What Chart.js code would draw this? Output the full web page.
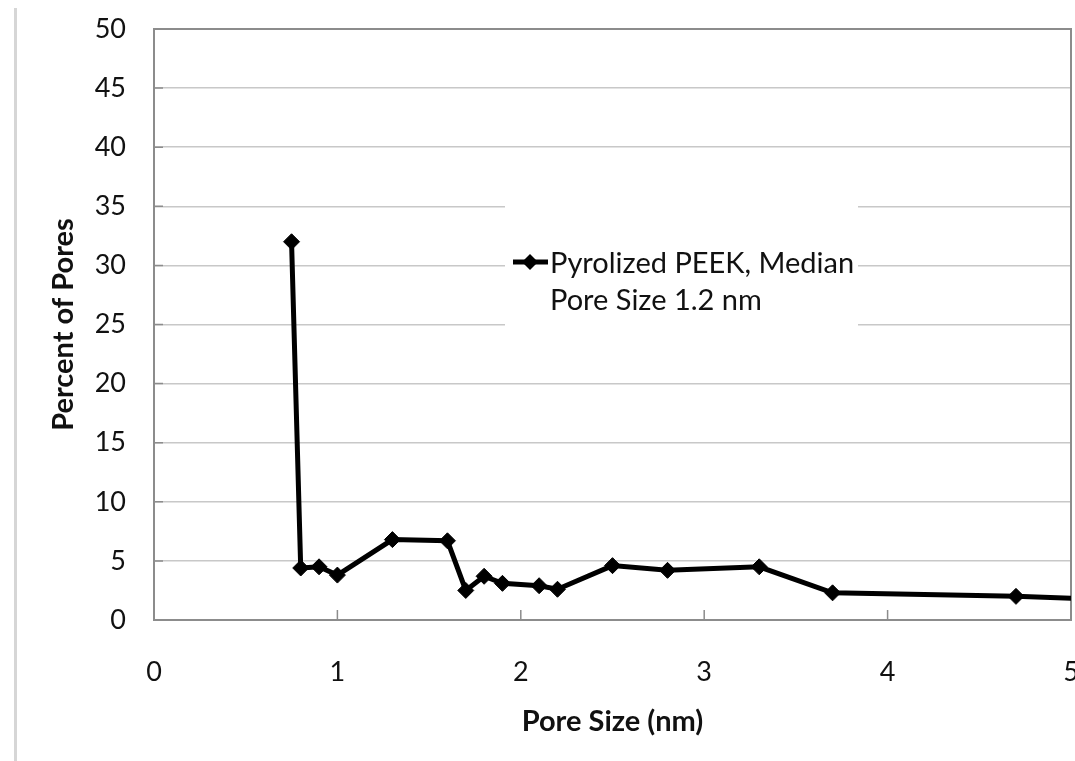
<!DOCTYPE html>
<html>
<head>
<meta charset="utf-8">
<script src="https://cdn.jsdelivr.net/npm/chart.js@4"></script>
<style>
  html, body { margin: 0; padding: 0; background: #fff; overflow: hidden; }
  #wrap { position: relative; width: 1090px; height: 761px; }
  #edge { position: absolute; left: 14px; top: 8px; width: 3px; bottom: 0; background: #d6d6d6; }
</style>
</head>
<body>
<div id="wrap">
  <div id="edge"></div>
  <canvas id="poreChart" width="1090" height="761"></canvas>
</div>
<script>
const seriesLabel = ['Pyrolized PEEK, Median', 'Pore Size 1.2 nm'];
const poreSize = [0.75, 0.8, 0.9, 1.0, 1.3, 1.6, 1.7, 1.8, 1.9, 2.1, 2.2, 2.5, 2.8, 3.3, 3.7, 4.7, 5.6];
const percentPores = [32, 4.4, 4.5, 3.8, 6.8, 6.7, 2.5, 3.7, 3.1, 2.9, 2.6, 4.6, 4.2, 4.5, 2.3, 2.0, 1.5];
const xTicks = [0, 1, 2, 3, 4, 5];
const yTicks = [0, 5, 10, 15, 20, 25, 30, 35, 40, 45, 50];

const FONT = 'Lato, "Open Sans", sans-serif';

// frame around the plot, inward tick marks and the boxed legend
const framePlugin = {
    id: 'frame',
    beforeDatasetsDraw(chart) {
        const { ctx, chartArea: a, scales: { x, y } } = chart;
        ctx.save();
        ctx.strokeStyle = '#8c8c8c';
        ctx.lineWidth = 2;
        ctx.strokeRect(a.left, a.top, a.right - a.left, a.bottom - a.top);
        ctx.lineWidth = 1.5;
        ctx.beginPath();
        xTicks.slice(1).forEach(v => {
            const px = x.getPixelForValue(v);
            ctx.moveTo(px, a.bottom);
            ctx.lineTo(px, a.bottom - 10);
        });
        yTicks.slice(1, -1).forEach(v => {
            const py = y.getPixelForValue(v);
            ctx.moveTo(a.left, py);
            ctx.lineTo(a.left + 9, py);
        });
        ctx.stroke();

        // legend box
        ctx.fillStyle = '#fff';
        ctx.fillRect(505, 190, 353, 150);
        ctx.restore();
    },
    afterDatasetsDraw(chart) {
        const { ctx } = chart;
        ctx.save();
        ctx.strokeStyle = '#000';
        ctx.lineWidth = 5;
        ctx.beginPath();
        ctx.moveTo(513, 262);
        ctx.lineTo(548, 262);
        ctx.stroke();
        ctx.fillStyle = '#000';
        ctx.beginPath();
        ctx.moveTo(530, 254);
        ctx.lineTo(538, 262);
        ctx.lineTo(530, 270);
        ctx.lineTo(522, 262);
        ctx.closePath();
        ctx.fill();
        ctx.font = '29px ' + FONT;
        ctx.fillStyle = '#111';
        ctx.textBaseline = 'alphabetic';
        ctx.fillText(seriesLabel[0], 550, 273);
        ctx.fillText(seriesLabel[1], 550, 310);
        ctx.restore();
    }
};

new Chart(document.getElementById('poreChart'), {
    type: 'line',
    data: {
        datasets: [{
            label: seriesLabel.join(' '),
            data: poreSize.map((p, i) => ({ x: p, y: percentPores[i] })),
            borderColor: '#000',
            backgroundColor: '#000',
            borderWidth: 5,
            pointStyle: 'rectRot',
            pointRadius: 8,
            pointBorderWidth: 1,
            tension: 0
        }]
    },
    options: {
        responsive: false,
        animation: false,
        layout: { padding: { left: 0, top: 29, right: 19, bottom: 0 } },
        plugins: {
            legend: { display: false },
            tooltip: { enabled: false }
        },
        scales: {
            x: {
                type: 'linear',
                min: 0,
                max: 5,
                afterFit: s => { s.height = 141; s.paddingLeft = 0; s.paddingRight = 0; },
                afterBuildTicks: s => { s.ticks = xTicks.map(v => ({ value: v })); },
                grid: { display: false, drawTicks: false },
                border: { display: false },
                ticks: { color: '#111', font: { family: FONT, size: 27 }, padding: 36 },
                title: {
                    display: true,
                    text: 'Pore Size (nm)',
                    color: '#111',
                    font: { family: FONT, size: 29, weight: 'bold' },
                    padding: { bottom: 22 }
                }
            },
            y: {
                min: 0,
                max: 50,
                afterFit: s => { s.width = 154; s.paddingTop = 0; s.paddingBottom = 0; },
                afterBuildTicks: s => { s.ticks = yTicks.map(v => ({ value: v })); },
                grid: { color: '#c8c8c8', lineWidth: 1.5, drawTicks: false },
                border: { display: false },
                ticks: { color: '#111', font: { family: FONT, size: 27 }, padding: 28 },
                title: {
                    display: true,
                    text: 'Percent of Pores',
                    color: '#111',
                    font: { family: FONT, size: 29, weight: 'bold' },
                    padding: { top: 46 }
                }
            }
        }
    },
    plugins: [framePlugin]
});
</script>
</body>
</html>
